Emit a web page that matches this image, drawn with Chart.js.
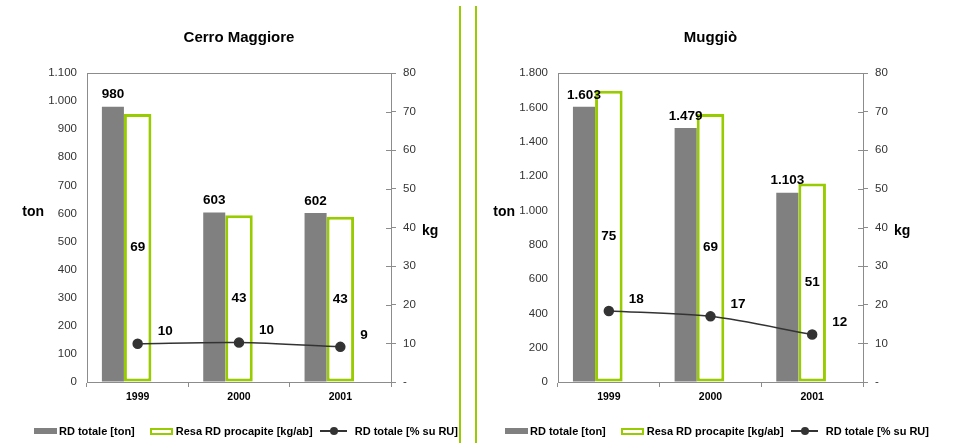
<!DOCTYPE html>
<html>
<head>
<meta charset="utf-8">
<script src="https://cdn.jsdelivr.net/npm/chart.js@4.4.0/dist/chart.umd.min.js"></script>
<style>
  body { margin: 0; background: #fff; font-family: "Liberation Sans", Arial, sans-serif; }
  #wrap { position: relative; width: 955px; height: 443px; overflow: hidden; }
  canvas { position: absolute; top: 0; }
  .sep { position: absolute; top: 6px; height: 437px; width: 2px; background: #99cc00; }
  .legend { position: absolute; top: 424px; height: 14px; display: flex; align-items: center;
            font-size: 11px; font-weight: bold; color: #000; white-space: nowrap; }
  .box-gray { width: 23px; height: 6px; background: #808080; margin-right: 2px; }
  .box-green { width: 23px; height: 7px; border: 2px solid #99cc00; box-sizing: border-box; margin-left: 15px; margin-right: 3px; }
  .sym-line { position: relative; width: 27px; height: 2px; background: #333; margin-left: 7px; margin-right: 8px; }
  .sym-line::after { content: ""; position: absolute; left: 10px; top: -3px; width: 8px; height: 8px; border-radius: 50%; background: #333; }
</style>
</head>
<body>
<div id="wrap">
  <canvas id="cerro" width="460" height="443" style="left:0"></canvas>
  <canvas id="muggio" width="479" height="443" style="left:476px"></canvas>
  <div class="sep" style="left:459px"></div>
  <div class="sep" style="left:475px"></div>
  <div class="legend" style="left:34px">
    <span class="box-gray"></span>RD totale [ton]
    <span class="box-green"></span>Resa RD procapite [kg/ab]
    <span class="sym-line"></span>RD totale [% su RU]
  </div>
  <div class="legend" style="left:505px">
    <span class="box-gray"></span>RD totale [ton]
    <span class="box-green"></span>Resa RD procapite [kg/ab]
    <span class="sym-line"></span>RD totale [% su RU]
  </div>
</div>
<script>
const anni = ['1999', '2000', '2001'];

// Cerro Maggiore
const cerroTon = [980, 603, 602];
const cerroKgAb = [69.4, 43.2, 42.8];
const cerroPercRU = [9.9, 10.2, 9.1];
const cerroTonTicks = [0, 100, 200, 300, 400, 500, 600, 700, 800, 900, 1000, 1100];

// Muggiò
const muggioTon = [1603, 1479, 1103];
const muggioKgAb = [75.4, 69.4, 51.4];
const muggioPercRU = [18.4, 17.0, 12.3];
const muggioTonTicks = [0, 200, 400, 600, 800, 1000, 1200, 1400, 1600, 1800];

const kgTicks = [0, 10, 20, 30, 40, 50, 60, 70, 80];

const GRAY = '#808080';
const GREEN = '#99cc00';
const DARK = '#333333';
const AXIS = '#8c8c8c';

Chart.defaults.font.family = '"Liberation Sans", Arial, sans-serif';

// 1.603 style thousands
function fmtIt(v) {
  return String(v).replace(/\B(?=(\d{3})+(?!\d))/g, '.');
}

function useTicks(list) {
  return scale => { scale.ticks = list.map(v => ({ value: v })); };
}

// titles, unit labels, plot frame and value labels
const decorPlugin = {
  id: 'decor',
  beforeDatasetsDraw(chart) {
    const { ctx, chartArea: a, scales } = chart;
    ctx.save();
    ctx.strokeStyle = AXIS;
    ctx.lineWidth = 1;
    ctx.beginPath();
    ctx.moveTo(a.left, Math.round(a.top) + 0.5);
    ctx.lineTo(a.right, Math.round(a.top) + 0.5);
    scales.y1.ticks.forEach(t => {
      const y = Math.round(scales.y1.getPixelForValue(t.value)) + 0.5;
      ctx.moveTo(a.right - 5, y);
      ctx.lineTo(a.right, y);
    });
    ctx.stroke();
    ctx.restore();
  },
  afterDatasetsDraw(chart) {
    const { ctx } = chart;
    ctx.save();
    ctx.fillStyle = '#000';
    ctx.font = 'bold 13.5px "Liberation Sans", Arial, sans-serif';
    chart.data.datasets.forEach((ds, i) => {
      if (!ds.labelKind) return;
      const meta = chart.getDatasetMeta(i);
      meta.data.forEach((el, j) => {
        const v = ds.data[j];
        if (v == null) return;
        if (ds.labelKind === 'top') {
          ctx.textAlign = 'center';
          ctx.textBaseline = 'middle';
          ctx.fillText(fmtIt(v), el.x, el.y - 12);
        } else if (ds.labelKind === 'middle') {
          ctx.textAlign = 'center';
          ctx.textBaseline = 'middle';
          ctx.fillText(Math.round(v), el.x, (el.y + el.base) / 2);
        } else if (ds.labelKind === 'point') {
          ctx.textAlign = 'left';
          ctx.textBaseline = 'middle';
          ctx.fillText(Math.round(v), el.x + 20, el.y - 12);
        }
      });
    });
    ctx.restore();
  },
  afterDraw(chart, args, opts) {
    const { ctx, chartArea: a } = chart;
    ctx.save();
    ctx.fillStyle = '#000';
    ctx.textBaseline = 'middle';
    ctx.font = 'bold 15px "Liberation Sans", Arial, sans-serif';
    ctx.textAlign = 'center';
    ctx.fillText(opts.title, (a.left + a.right) / 2, a.top - 35);
    ctx.font = 'bold 14px "Liberation Sans", Arial, sans-serif';
    ctx.textAlign = 'right';
    ctx.fillText('ton', a.left - 43, a.top + 139);
    ctx.textAlign = 'left';
    ctx.fillText('kg', a.right + 31, a.top + 158);
    ctx.restore();
  }
};

function makeChart(id, title, ton, kgAb, percRU, tonTicks, leftW, rightW) {
  return new Chart(document.getElementById(id), {
    type: 'bar',
    data: {
      labels: anni,
      datasets: [
        {
          label: 'RD totale [% su RU]',
          type: 'line',
          data: percRU,
          yAxisID: 'y1',
          order: 0,
          borderColor: DARK,
          borderWidth: 1.5,
          tension: 0.3,
          pointRadius: 4.5,
          pointBackgroundColor: DARK,
          pointBorderColor: DARK,
          labelKind: 'point'
        },
        {
          label: 'RD totale [ton]',
          data: ton,
          yAxisID: 'y',
          order: 1,
          backgroundColor: GRAY,
          barPercentage: 0.89,
          categoryPercentage: 0.733,
          labelKind: 'top'
        },
        {
          label: 'Resa RD procapite [kg/ab]',
          data: kgAb,
          yAxisID: 'y1',
          order: 1,
          backgroundColor: '#ffffff',
          borderColor: GREEN,
          borderWidth: 3,
          borderSkipped: false,
          barPercentage: 1.11,
          categoryPercentage: 0.733,
          labelKind: 'middle'
        },
        {
          // empty slot so the green bar sits on the category centre
          label: '',
          data: [null, null, null],
          yAxisID: 'y',
          order: 1,
          barPercentage: 0.89,
          categoryPercentage: 0.733
        }
      ]
    },
    options: {
      responsive: false,
      animation: false,
      layout: { padding: { top: 73, left: 0, right: 0, bottom: 0 } },
      plugins: {
        legend: { display: false },
        tooltip: { enabled: false },
        decor: { title: title }
      },
      scales: {
        x: {
          grid: { drawOnChartArea: false, color: AXIS, tickLength: 5 },
          border: { color: AXIS },
          ticks: { color: '#000', font: { size: 10.5, weight: 'bold' }, padding: 4 },
          afterFit: s => { s.height = 61; }
        },
        y: {
          position: 'left',
          min: tonTicks[0],
          max: tonTicks[tonTicks.length - 1],
          afterBuildTicks: useTicks(tonTicks),
          grid: { drawOnChartArea: false, drawTicks: false },
          border: { color: AXIS },
          ticks: { color: '#333', font: { size: 11.5 }, padding: 10, callback: v => fmtIt(v) },
          afterFit: s => { s.width = leftW; }
        },
        y1: {
          position: 'right',
          min: kgTicks[0],
          max: kgTicks[kgTicks.length - 1],
          afterBuildTicks: useTicks(kgTicks),
          grid: { drawOnChartArea: false, color: AXIS, tickLength: 5 },
          border: { color: AXIS },
          ticks: { color: '#333', font: { size: 11.5 }, padding: 7, callback: v => (v === 0 ? '-' : v) },
          afterFit: s => { s.width = rightW; }
        }
      }
    },
    plugins: [decorPlugin]
  });
}

makeChart('cerro', 'Cerro Maggiore', cerroTon, cerroKgAb, cerroPercRU, cerroTonTicks, 87, 69);
makeChart('muggio', 'Muggiò', muggioTon, muggioKgAb, muggioPercRU, muggioTonTicks, 82, 92);
</script>
</body>
</html>
